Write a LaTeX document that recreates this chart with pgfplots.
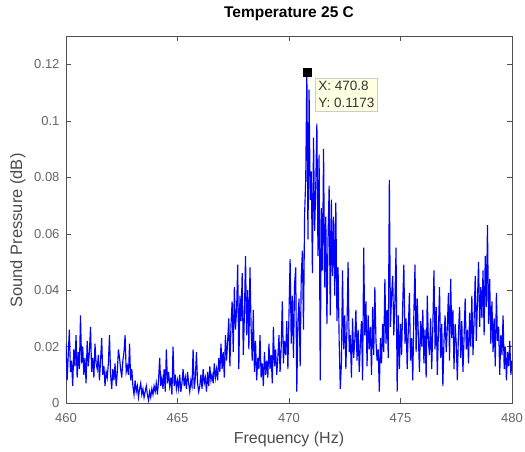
\documentclass[border=0pt]{standalone}
\usepackage{pgfplots}
\pgfplotsset{compat=1.18}
\usepackage{fontspec}
\setmainfont{Liberation Sans}
\definecolor{tipbg}{RGB}{255,255,225}
\definecolor{axgray}{RGB}{80,80,80}
\begin{document}
\begin{tikzpicture}
\useasboundingbox (-66pt,-49pt) rectangle (459pt,403pt);
\begin{axis}[
  at={(0,0)}, anchor=south west,
  scale only axis, width=446pt, height=367pt,
  xmin=460, xmax=480, ymin=0, ymax=0.13,
  xtick={460,465,...,480},
  ytick={0,0.02,0.04,0.06,0.08,0.1,0.12},
  /pgf/number format/assume math mode=true,
  yticklabel style={/pgf/number format/fixed, /pgf/number format/precision=2, xshift=-3pt},
  xticklabel style={/pgf/number format/1000 sep={}, yshift=-7pt},
  tick label style={font=\fontsize{13}{15}\selectfont, text=black!60},
  xlabel style={font=\fontsize{16}{18}\selectfont, text=black!70,
    at={(axis description cs:0.5,-0.1)}, anchor=center},
  ylabel style={font=\fontsize{16.5}{18}\selectfont, text=black!70,
    at={(axis description cs:-0.108,0.47)}, anchor=center, rotate=0},
  title style={font=\bfseries\fontsize{15.5}{18}\selectfont,
    at={(axis description cs:0.5,1.044)}, anchor=center},
  title={Temperature 25 C},
  xlabel={Frequency (Hz)}, ylabel={Sound Pressure (dB)},
  axis line style={axgray, line width=0.6pt},
  major tick style={axgray}, major tick length=5pt,
  tick align=inside,
]
\addplot[blue, line width=1.15pt] coordinates {
(460.00,0.021)(460.05,0.008)(460.10,0.017)(460.15,0.026)(460.20,0.011)(460.25,0.015)(460.30,0.006)(460.35,0.019)(460.40,0.013)(460.45,0.024)
(460.50,0.009)(460.55,0.018)(460.60,0.012)(460.65,0.031)(460.70,0.014)(460.75,0.020)(460.80,0.010)(460.85,0.016)(460.90,0.007)(460.95,0.022)
(461.00,0.013)(461.05,0.018)(461.10,0.027)(461.15,0.011)(461.20,0.016)(461.25,0.009)(461.30,0.021)(461.35,0.014)(461.40,0.012)(461.45,0.017)
(461.50,0.008)(461.55,0.015)(461.60,0.023)(461.65,0.010)(461.70,0.013)(461.75,0.006)(461.80,0.011)(461.85,0.009)(461.90,0.014)(461.95,0.024)
(462.00,0.010)(462.05,0.005)(462.10,0.012)(462.15,0.008)(462.20,0.014)(462.25,0.006)(462.30,0.011)(462.35,0.019)(462.40,0.016)(462.45,0.012)
(462.50,0.009)(462.55,0.015)(462.60,0.018)(462.65,0.024)(462.70,0.011)(462.75,0.013)(462.80,0.010)(462.85,0.021)(462.90,0.008)(462.95,0.012)
(463.00,0.006)(463.05,0.003)(463.10,0.008)(463.15,0.004)(463.20,0.006)(463.25,0.002)(463.30,0.005)(463.35,0.007)(463.40,0.003)(463.45,0.005)
(463.50,0.002)(463.55,0.004)(463.60,0.006)(463.65,0.003)(463.70,0.001)(463.75,0.004)(463.80,0.002)(463.85,0.005)(463.90,0.003)(463.95,0.006)
(464.00,0.004)(464.05,0.007)(464.10,0.003)(464.15,0.008)(464.20,0.016)(464.25,0.006)(464.30,0.009)(464.35,0.005)(464.40,0.012)(464.45,0.004)
(464.50,0.019)(464.55,0.007)(464.60,0.011)(464.65,0.006)(464.70,0.009)(464.75,0.003)(464.80,0.020)(464.85,0.006)(464.90,0.010)(464.95,0.005)
(465.00,0.008)(465.05,0.005)(465.10,0.010)(465.15,0.004)(465.20,0.007)(465.25,0.012)(465.30,0.006)(465.35,0.009)(465.40,0.005)(465.45,0.011)
(465.50,0.007)(465.55,0.004)(465.60,0.008)(465.65,0.006)(465.70,0.019)(465.75,0.005)(465.80,0.009)(465.85,0.018)(465.90,0.007)(465.95,0.004)
(466.00,0.006)(466.05,0.010)(466.10,0.005)(466.15,0.012)(466.20,0.007)(466.25,0.009)(466.30,0.004)(466.35,0.011)(466.40,0.006)(466.45,0.013)
(466.50,0.008)(466.55,0.010)(466.60,0.007)(466.65,0.014)(466.70,0.009)(466.75,0.012)(466.80,0.008)(466.85,0.016)(466.90,0.011)(466.95,0.021)
(467.00,0.012)(467.05,0.018)(467.10,0.009)(467.15,0.024)(467.20,0.015)(467.25,0.022)(467.30,0.030)(467.35,0.013)(467.40,0.028)(467.45,0.036)
(467.50,0.018)(467.55,0.041)(467.60,0.026)(467.65,0.033)(467.70,0.049)(467.75,0.012)(467.80,0.038)(467.85,0.029)(467.90,0.046)(467.95,0.017)
(468.00,0.031)(468.05,0.052)(468.10,0.024)(468.15,0.040)(468.20,0.019)(468.25,0.048)(468.30,0.027)(468.35,0.015)(468.40,0.033)(468.45,0.011)
(468.50,0.022)(468.55,0.008)(468.60,0.016)(468.65,0.012)(468.70,0.024)(468.75,0.009)(468.80,0.014)(468.85,0.006)(468.90,0.018)(468.95,0.010)
(469.00,0.015)(469.05,0.009)(469.10,0.021)(469.15,0.012)(469.20,0.017)(469.25,0.007)(469.30,0.027)(469.35,0.013)(469.40,0.019)(469.45,0.010)
(469.50,0.016)(469.55,0.024)(469.60,0.011)(469.65,0.020)(469.70,0.036)(469.75,0.014)(469.80,0.022)(469.85,0.017)(469.90,0.029)(469.95,0.012)
(470.00,0.032)(470.05,0.051)(470.10,0.021)(470.15,0.038)(470.20,0.016)(470.25,0.042)(470.30,0.048)(470.35,0.004)(470.40,0.029)(470.45,0.037)
(470.50,0.013)(470.55,0.045)(470.60,0.054)(470.65,0.026)(470.70,0.067)(470.75,0.079)(470.80,0.1173)(470.85,0.058)(470.90,0.111)(470.95,0.072)
(471.00,0.082)(471.05,0.046)(471.10,0.094)(471.15,0.061)(471.20,0.077)(471.25,0.099)(471.30,0.052)(471.35,0.088)(471.40,0.008)(471.45,0.069)
(471.50,0.047)(471.55,0.090)(471.60,0.041)(471.65,0.066)(471.70,0.028)(471.75,0.058)(471.80,0.077)(471.85,0.031)(471.90,0.072)(471.95,0.045)
(472.00,0.066)(472.05,0.038)(472.10,0.071)(472.15,0.029)(472.20,0.048)(472.25,0.022)(472.30,0.005)(472.35,0.014)(472.40,0.047)(472.45,0.019)
(472.50,0.031)(472.55,0.012)(472.60,0.027)(472.65,0.050)(472.70,0.018)(472.75,0.024)(472.80,0.009)(472.85,0.030)(472.90,0.016)(472.95,0.022)
(473.00,0.033)(473.05,0.015)(473.10,0.026)(473.15,0.011)(473.20,0.021)(473.25,0.029)(473.30,0.008)(473.35,0.055)(473.40,0.024)(473.45,0.036)
(473.50,0.013)(473.55,0.031)(473.60,0.019)(473.65,0.027)(473.70,0.010)(473.75,0.034)(473.80,0.017)(473.85,0.041)(473.90,0.022)(473.95,0.015)
(474.00,0.019)(474.05,0.004)(474.10,0.023)(474.15,0.014)(474.20,0.028)(474.25,0.018)(474.30,0.044)(474.35,0.021)(474.40,0.033)(474.45,0.016)
(474.50,0.079)(474.55,0.027)(474.60,0.038)(474.65,0.045)(474.70,0.024)(474.75,0.036)(474.80,0.055)(474.85,0.004)(474.90,0.031)(474.95,0.012)
(475.00,0.028)(475.05,0.017)(475.10,0.035)(475.15,0.049)(475.20,0.021)(475.25,0.030)(475.30,0.012)(475.35,0.026)(475.40,0.039)(475.45,0.015)
(475.50,0.023)(475.55,0.008)(475.60,0.032)(475.65,0.049)(475.70,0.018)(475.75,0.037)(475.80,0.024)(475.85,0.011)(475.90,0.029)(475.95,0.020)
(476.00,0.033)(476.05,0.014)(476.10,0.026)(476.15,0.009)(476.20,0.038)(476.25,0.022)(476.30,0.017)(476.35,0.030)(476.40,0.012)(476.45,0.027)
(476.50,0.047)(476.55,0.019)(476.60,0.034)(476.65,0.010)(476.70,0.025)(476.75,0.041)(476.80,0.016)(476.85,0.028)(476.90,0.006)(476.95,0.022)
(477.00,0.031)(477.05,0.018)(477.10,0.027)(477.15,0.039)(477.20,0.015)(477.25,0.044)(477.30,0.023)(477.35,0.033)(477.40,0.012)(477.45,0.028)
(477.50,0.021)(477.55,0.008)(477.60,0.025)(477.65,0.034)(477.70,0.016)(477.75,0.029)(477.80,0.011)(477.85,0.023)(477.90,0.037)(477.95,0.019)
(478.00,0.026)(478.05,0.014)(478.10,0.032)(478.15,0.020)(478.20,0.038)(478.25,0.017)(478.30,0.029)(478.35,0.045)(478.40,0.022)(478.45,0.036)
(478.50,0.050)(478.55,0.027)(478.60,0.041)(478.65,0.030)(478.70,0.047)(478.75,0.024)(478.80,0.052)(478.85,0.034)(478.90,0.063)(478.95,0.028)
(479.00,0.044)(479.05,0.021)(479.10,0.036)(479.15,0.018)(479.20,0.030)(479.25,0.013)(479.30,0.039)(479.35,0.022)(479.40,0.027)(479.45,0.010)
(479.50,0.024)(479.55,0.017)(479.60,0.031)(479.65,0.012)(479.70,0.020)(479.75,0.008)(479.80,0.018)(479.85,0.013)(479.90,0.022)(479.95,0.010)
(480.00,0.015)
};
% data tip marker
\addplot[only marks, mark=square*, mark size=4pt, black] coordinates {(470.8,0.1173)};
\node[anchor=north west, fill=tipbg, draw=black!20, align=left,
  font=\fontsize{13.5}{17}\selectfont, text=black!80, inner sep=3pt]
  at (axis cs:471.17,0.1151) {X: 470.8\\Y: 0.1173};
\end{axis}
\end{tikzpicture}
\end{document}
